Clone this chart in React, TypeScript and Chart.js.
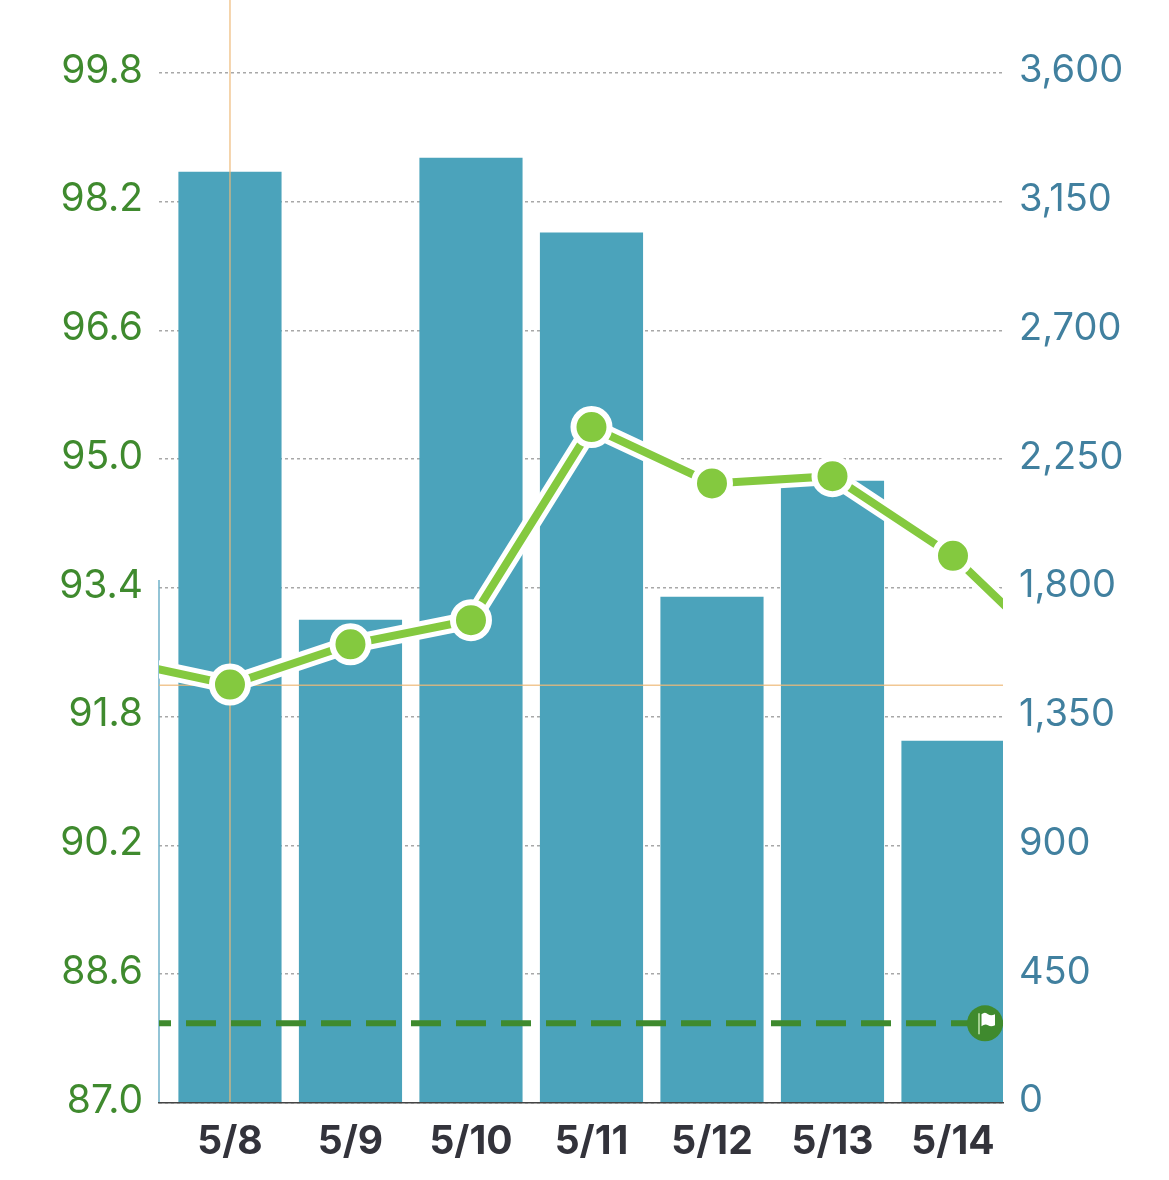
import React, { useEffect, useRef } from "react";
import { Chart, registerables } from "chart.js";

Chart.register(...registerables);

const categories = ["5/8", "5/9", "5/10", "5/11", "5/12", "5/13", "5/14"];
const barValues = [3254, 1688, 3303, 3041, 1768, 2174, 1265];
const lineValues = [92.2, 92.7, 93.0, 95.4, 94.7, 94.79, 93.8];
const lineBefore = 92.52;
const lineAfter = 92.36;
const leftTicks = [87.0, 88.6, 90.2, 91.8, 93.4, 95.0, 96.6, 98.2, 99.8];
const rightTicks = [0, 450, 900, 1350, 1800, 2250, 2700, 3150, 3600];
const goalValue = 87.99;
const crosshairIndex = 0;
const crosshairValue = 92.19;
const leftAxisLineTop = 93.5;

const X_MIN = -0.589;
const X_MAX = 6.415;
const Y_MIN = 87;
const Y_MAX = 100.707;
const R_MAX = 3855.1;

const GREEN_TEXT = "#3f8a2e";
const BLUE_TEXT = "#41809f";
const BAR = "#4ba3bb";
const LINE = "#84c93f";
const CROSS = "rgba(238,185,120,0.8)";

const flagPlugin = {
  id: "goalFlag",
  afterDatasetsDraw(chart: any) {
    const { ctx, chartArea, scales } = chart;
    const cy = scales.y.getPixelForValue(goalValue);
    const cx = chartArea.right - 18;
    ctx.save();
    ctx.fillStyle = GREEN_TEXT;
    ctx.beginPath();
    ctx.arc(cx, cy, 18, 0, Math.PI * 2);
    ctx.fill();
    ctx.strokeStyle = "#c5e6b0";
    ctx.lineWidth = 1.5;
    ctx.beginPath();
    ctx.moveTo(cx - 6, cy - 10);
    ctx.lineTo(cx - 6, cy + 11);
    ctx.stroke();
    ctx.fillStyle = "#ffffff";
    ctx.beginPath();
    ctx.moveTo(cx - 3.5, cy - 9);
    ctx.quadraticCurveTo(cx, cy - 12, cx + 3, cy - 9);
    ctx.quadraticCurveTo(cx + 6, cy - 7, cx + 10, cy - 9);
    ctx.lineTo(cx + 10, cy + 2);
    ctx.quadraticCurveTo(cx + 6, cy + 4, cx + 3, cy + 2);
    ctx.quadraticCurveTo(cx, cy, cx - 3.5, cy + 3);
    ctx.closePath();
    ctx.fill();
    ctx.restore();
  },
};

export default function App() {
  const ref = useRef<HTMLCanvasElement | null>(null);

  useEffect(() => {
    document.body.style.margin = "0";
    document.body.style.background = "#ffffff";
    const linePoints = [
      { x: -1, y: lineBefore },
      ...lineValues.map((y, x) => ({ x, y })),
      { x: 7, y: lineAfter },
    ];
    const chart = new Chart(ref.current as HTMLCanvasElement, {
      type: "bar",
      plugins: [flagPlugin],
      data: {
        datasets: [
          {
            type: "bar",
            data: barValues.map((y, x) => ({ x, y })),
            yAxisID: "yR",
            backgroundColor: BAR,
            barThickness: 102.5,
            order: 7,
          },
          {
            type: "line",
            data: [
              { x: X_MIN, y: Y_MIN },
              { x: X_MIN, y: leftAxisLineTop },
            ],
            yAxisID: "y",
            borderColor: "#6fb0c8",
            borderWidth: 1.5,
            pointRadius: 0,
            clip: false,
            order: 6,
          },
          {
            type: "line",
            data: [
              { x: crosshairIndex, y: Y_MIN },
              { x: crosshairIndex, y: Y_MAX },
            ],
            yAxisID: "y",
            borderColor: CROSS,
            borderWidth: 1.5,
            pointRadius: 0,
            order: 5,
          },
          {
            type: "line",
            data: [
              { x: X_MIN, y: crosshairValue },
              { x: X_MAX, y: crosshairValue },
            ],
            yAxisID: "y",
            borderColor: CROSS,
            borderWidth: 1.5,
            pointRadius: 0,
            order: 5,
          },
          {
            type: "line",
            data: linePoints,
            yAxisID: "y",
            borderColor: "#ffffff",
            borderWidth: 18,
            pointRadius: 0,
            tension: 0,
            order: 4,
          },
          {
            type: "line",
            data: linePoints,
            yAxisID: "y",
            borderColor: LINE,
            borderWidth: 8,
            pointRadius: 18,
            pointBorderWidth: 6,
            pointBackgroundColor: LINE,
            pointBorderColor: "#ffffff",
            tension: 0,
            order: 3,
          },
          {
            type: "line",
            data: [
              { x: X_MIN, y: goalValue },
              { x: X_MAX, y: goalValue },
            ],
            yAxisID: "y",
            borderColor: GREEN_TEXT,
            borderWidth: 6,
            borderDash: [30, 15],
            borderDashOffset: 18,
            pointRadius: 0,
            order: 2,
          },
        ],
      },
      options: {
        animation: false,
        responsive: false,
        devicePixelRatio: 1,
        layout: { padding: 0, autoPadding: false },
        plugins: { legend: { display: false }, tooltip: { enabled: false } },
        scales: {
          x: {
            type: "linear",
            min: X_MIN,
            max: X_MAX,
            offset: false,
            grid: { display: false, offset: false, drawTicks: false },
            border: { display: true, color: "#444444", dash: [3, 2], width: 1.5, z: 1 },
            afterBuildTicks(scale: any) {
              scale.ticks = categories.map((_, value) => ({ value }));
            },
            afterFit(scale: any) {
              scale.height = 77;
              scale.paddingLeft = 0;
              scale.paddingRight = 0;
            },
            ticks: {
              autoSkip: false,
              maxRotation: 0,
              minRotation: 0,
              padding: 16,
              color: "#33333b",
              font: { family: "Inter", size: 39, weight: "bold" },
              callback: (v: any) => categories[v],
            },
          },
          y: {
            type: "linear",
            position: "left",
            min: Y_MIN,
            max: Y_MAX,
            grid: {
              color: "#a8a8a8",
              lineWidth: 1.5,
              drawTicks: false,
            },
            border: { display: false, dash: [3, 3] },
            afterBuildTicks(scale: any) {
              scale.ticks = leftTicks.map((value) => ({ value }));
            },
            afterFit(scale: any) {
              scale.width = 159;
              scale.paddingTop = 0;
              scale.paddingBottom = 0;
            },
            ticks: {
              autoSkip: false,
              padding: 16,
              labelOffset: -2,
              color: GREEN_TEXT,
              font: { family: "Inter", size: 39, weight: "normal" },
              callback: (v: any) => Number(v).toFixed(1),
            },
          },
          yR: {
            type: "linear",
            position: "right",
            min: 0,
            max: R_MAX,
            grid: { display: false, drawTicks: false },
            border: { display: false },
            afterBuildTicks(scale: any) {
              scale.ticks = rightTicks.map((value) => ({ value }));
            },
            afterFit(scale: any) {
              scale.width = 166;
              scale.paddingTop = 0;
              scale.paddingBottom = 0;
            },
            ticks: {
              autoSkip: false,
              padding: 16,
              labelOffset: -2,
              color: BLUE_TEXT,
              font: { family: "Inter", size: 38, weight: "normal" },
              callback: (v: any) => Number(v).toLocaleString("en-US"),
            },
          },
        },
      } as any,
    } as any);
    return () => chart.destroy();
  }, []);

  return (
    <div style={{ width: 1169, height: 1180 }}>
      <canvas ref={ref} width={1169} height={1180} style={{ display: "block" }} />
    </div>
  );
}
